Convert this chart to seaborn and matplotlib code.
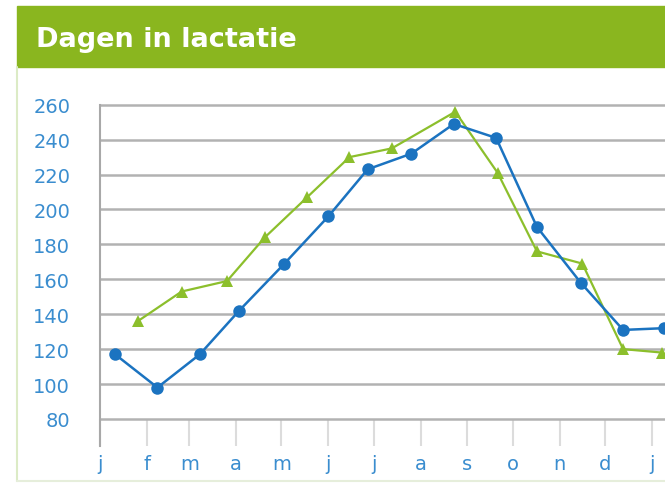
import numpy as np
import pandas as pd
import seaborn as sns
import matplotlib.pyplot as plt
from matplotlib.patches import Rectangle
from matplotlib.lines import Line2D

# data (x = day of year, y = dagen in lactatie)
blue_day = [10, 38, 66, 92, 122, 151, 177, 206, 234, 262, 289, 318, 346, 373]
blue_dil = [117, 98, 117, 142, 169, 196, 223, 232, 249, 241, 190, 158, 131, 132]
green_day = [25, 54, 84, 109, 137, 165, 193, 235, 263, 289, 319, 346, 372]
green_dil = [136, 153, 159, 184, 207, 230, 235, 256, 221, 176, 169, 120, 118]

month_days = [0, 31, 59, 90, 120, 151, 181, 212, 243, 273, 304, 334, 365]
month_labels = ["j", "f", "m", "a", "m", "j", "j", "a", "s", "o", "n", "d", "j"]
y_ticks = [80, 100, 120, 140, 160, 180, 200, 220, 240, 260]

blue = "#1b73c0"
green = "#8cbf2c"
label_blue = "#3a8dcf"

sns.set_style("white")
plt.rcParams['font.family'] = ['DejaVu Sans']

fig = plt.figure(figsize=(6.65, 4.85), dpi=100)
ax = fig.add_axes([100 / 665, 1 - 447 / 485, 1 - 100 / 665, 343 / 485])

# header band and frame
fig.patches.append(Rectangle((17 / 665, 1 - 68 / 485), 1, 61 / 485,
                             transform=fig.transFigure, color="#8ab61f", zorder=0))
fig.lines.append(Line2D([17 / 665, 17 / 665], [1 - 68 / 485, 1 - 482 / 485],
                        transform=fig.transFigure, color="#dcebc6", lw=1.5))
fig.lines.append(Line2D([17 / 665, 1], [1 - 482 / 485, 1 - 482 / 485],
                        transform=fig.transFigure, color="#e6eedb", lw=1.5))
fig.text(36 / 665, 1 - 47 / 485, "Dagen in lactatie", color="white",
         fontsize=19.5, fontweight="bold", ha="left", va="baseline")

sns.lineplot(x=green_day, y=green_dil, ax=ax, color=green, linewidth=1.6,
             marker="^", markersize=8.5, markeredgewidth=0, zorder=3)
sns.lineplot(x=blue_day, y=blue_dil, ax=ax, color=blue, linewidth=1.8,
             marker="o", markersize=9, markeredgewidth=0, zorder=4)

ax.set_xlim(0, 373.7)
ax.set_ylim(64.5, 261)
ax.set_yticks(y_ticks)
ax.set_yticklabels([str(v) for v in y_ticks])
ax.set_xticks(month_days)
ax.set_xticklabels(month_labels)

ax.yaxis.grid(True, color="#b2b2b2", linewidth=1.8)
ax.xaxis.grid(False)
ax.tick_params(axis="y", direction="out", length=20, width=1.8, color="#b2b2b2",
               pad=1.5, labelsize=14, labelcolor=label_blue)
ax.tick_params(axis="x", direction="in", length=19.5, width=1.5, color="#dcdcdc",
               pad=6, labelsize=14, labelcolor=label_blue, bottom=True)

for side in ["top", "right", "bottom"]:
    ax.spines[side].set_visible(False)
ax.spines["left"].set_color("#a8a8a8")
ax.spines["left"].set_linewidth(1.5)
ax.spines["left"].set_bounds(64.5, 260)
ax.set_xlabel("")
ax.set_ylabel("")

fig.savefig("out.png", dpi=100)
